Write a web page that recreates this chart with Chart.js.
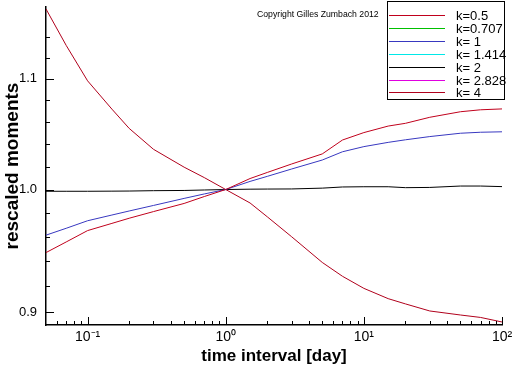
<!DOCTYPE html>
<html>
<head>
<meta charset="utf-8">
<script src="https://cdn.jsdelivr.net/npm/chart.js@4.4.1/dist/chart.umd.min.js"></script>
<style>
  html, body { margin: 0; padding: 0; background: #fff; }
  #wrap { width: 512px; height: 366px; }
</style>
</head>
<body>
<div id="wrap"><canvas id="moments" width="512" height="366"></canvas></div>
<script>
// time intervals [day]
const times = [0.05, 0.07, 0.1, 0.15, 0.2, 0.3, 0.5, 0.7, 1, 1.5, 2, 3, 5, 7, 10, 15, 20, 30, 50, 70, 100];

// rescaled moments
const k05 = [0.9472, 0.9559, 0.9653, 0.9713, 0.9756, 0.9812, 0.9881, 0.9940, 1.0, 1.0095, 1.0148, 1.0222, 1.0311, 1.0435, 1.0502, 1.0561, 1.0586, 1.0641, 1.0692, 1.0710, 1.0718];
const k0707 = [];
const k1 = [0.9615, 0.9672, 0.9735, 0.9783, 0.9817, 0.9864, 0.9924, 0.9962, 1.0, 1.0070, 1.0114, 1.0178, 1.0257, 1.0330, 1.0376, 1.0414, 1.0437, 1.0466, 1.0496, 1.0505, 1.0509];
const k1414 = [];
const k2 = [0.9985, 0.9985, 0.9985, 0.9986, 0.9987, 0.9990, 0.9992, 0.9996, 1.0, 1.0003, 1.0004, 1.0005, 1.0012, 1.0022, 1.0024, 1.0024, 1.0016, 1.0018, 1.0030, 1.0030, 1.0025];
const k2828 = [];
const k4 = [1.168, 1.132, 1.098, 1.0716, 1.054, 1.0352, 1.0194, 1.0103, 1.0, 0.9885, 0.9768, 0.9602, 0.9392, 0.9281, 0.9185, 0.9104, 0.9063, 0.9008, 0.8977, 0.8958, 0.8923];

const kLabels = ['k=0.5', 'k=0.707', 'k= 1', 'k= 1.414', 'k= 2', 'k= 2.828', 'k= 4'];
const kValues = [k05, k0707, k1, k1414, k2, k2828, k4];
const kColors = ['#c0001c', '#00c000', '#3838c0', '#00e8e8', '#000000', '#e000e0', '#b0001c'];

// axis ticks
const xMajor = [0.1, 1, 10, 100];
const xMinor = [0.06, 0.07, 0.08, 0.09, 0.2, 0.3, 0.4, 0.5, 0.6, 0.7, 0.8, 0.9, 2, 3, 4, 5, 6, 7, 8, 9, 20, 30, 40, 50, 60, 70, 80, 90];
const xLabels = ['10\u207B\u00B9', '10\u2070', '10\u00B9', '10\u00B2'];
const yMajor = [0.9, 1.0, 1.1];
const yMinor = [0.92, 0.94, 0.96, 0.98, 1.02, 1.04, 1.06, 1.08, 1.12, 1.14];

const isIn = (list, v) => list.some(m => Math.abs(m - v) < 1e-9);

// tick marks drawn on the inside of the axes
const innerTicks = {
  id: 'innerTicks',
  afterDraw(chart) {
    const ctx = chart.ctx;
    const xs = chart.scales.x, ys = chart.scales.y;
    const area = chart.chartArea;
    ctx.save();
    ctx.strokeStyle = '#000';
    ctx.lineWidth = 1;
    ctx.beginPath();
    xs.ticks.forEach(t => {
      const px = Math.round(xs.getPixelForValue(t.value)) + 0.5;
      const len = isIn(xMajor, t.value) ? 8 : 4;
      ctx.moveTo(px, area.bottom);
      ctx.lineTo(px, area.bottom - len);
    });
    ys.ticks.forEach(t => {
      const py = Math.round(ys.getPixelForValue(t.value)) + 0.5;
      const len = isIn(yMajor, t.value) ? 8 : 4;
      ctx.moveTo(area.left, py);
      ctx.lineTo(area.left + len, py);
    });
    ctx.stroke();
    ctx.restore();
  }
};

// boxed legend + copyright note in the top right
const boxLegend = {
  id: 'boxLegend',
  afterDraw(chart) {
    const ctx = chart.ctx;
    ctx.save();
    ctx.fillStyle = '#fff';
    ctx.fillRect(387, 1, 118, 99);
    ctx.strokeStyle = '#000';
    ctx.lineWidth = 1;
    ctx.strokeRect(387.5, 1.5, 117, 98);
    ctx.font = '13px "Liberation Sans", Arial, sans-serif';
    ctx.textBaseline = 'middle';
    chart.data.datasets.forEach((ds, i) => {
      const y = Math.round(15 + i * 12.9) + 0.5;
      ctx.strokeStyle = ds.borderColor;
      ctx.lineWidth = 1.2;
      ctx.beginPath();
      ctx.moveTo(389, y);
      ctx.lineTo(445, y);
      ctx.stroke();
      ctx.fillStyle = '#000';
      ctx.fillText(ds.label, 456, y + 1);
    });
    ctx.font = '8.7px "Liberation Sans", Arial, sans-serif';
    ctx.fillText('Copyright Gilles Zumbach 2012', 257, 15);
    ctx.restore();
  }
};

new Chart(document.getElementById('moments').getContext('2d'), {
  type: 'line',
  data: {
    datasets: kLabels.map((lab, i) => ({
      label: lab,
      data: kValues[i].map((v, j) => ({ x: times[j], y: v })),
      borderColor: kColors[i],
      backgroundColor: kColors[i],
      borderWidth: 1,
      pointRadius: 0,
      tension: 0,
      fill: false
    }))
  },
  options: {
    responsive: false,
    animation: false,
    layout: { padding: { top: 7, right: 10, left: 0, bottom: 0 } },
    plugins: {
      legend: { display: false },
      tooltip: { enabled: false }
    },
    scales: {
      x: {
        type: 'logarithmic',
        min: 0.05,
        max: 100,
        grid: { display: false, drawTicks: false },
        border: { display: true, color: '#000', width: 1.5 },
        afterBuildTicks: s => { s.ticks = xMajor.concat(xMinor).sort((a, b) => a - b).map(v => ({ value: v })); },
        afterFit: s => { s.height = 41; s.paddingLeft = 0; s.paddingRight = 0; },
        ticks: {
          autoSkip: false,
          maxRotation: 0,
          padding: 4,
          color: '#000',
          font: { family: '"Liberation Sans", Arial, sans-serif', size: 14 },
          callback: function(value) {
            const idx = xMajor.findIndex(m => Math.abs(m - value) < 1e-9);
            return idx >= 0 ? xLabels[idx] : '';
          }
        },
        title: {
          display: true,
          text: 'time interval [day]',
          color: '#000',
          padding: { top: 0, bottom: 1 },
          font: { family: '"Liberation Sans", Arial, sans-serif', size: 17, weight: 'bold', lineHeight: 1 }
        }
      },
      y: {
        type: 'logarithmic',
        min: 0.8915,
        max: 1.17,
        grid: { display: false, drawTicks: false },
        border: { display: true, color: '#000', width: 1.5 },
        afterBuildTicks: s => { s.ticks = yMajor.concat(yMinor).sort((a, b) => a - b).map(v => ({ value: v })); },
        afterFit: s => { s.width = 46; s.paddingTop = 0; s.paddingBottom = 0; },
        ticks: {
          autoSkip: false,
          padding: 9,
          color: '#000',
          font: { family: '"Liberation Sans", Arial, sans-serif', size: 13 },
          callback: function(value) {
            return isIn(yMajor, value) ? value.toFixed(1) : '';
          }
        },
        title: {
          display: true,
          text: 'rescaled moments',
          color: '#000',
          padding: { top: 3, bottom: 0 },
          font: { family: '"Liberation Sans", Arial, sans-serif', size: 19, weight: 'bold', lineHeight: 1 }
        }
      }
    }
  },
  plugins: [innerTicks, boxLegend]
});
</script>
</body>
</html>
